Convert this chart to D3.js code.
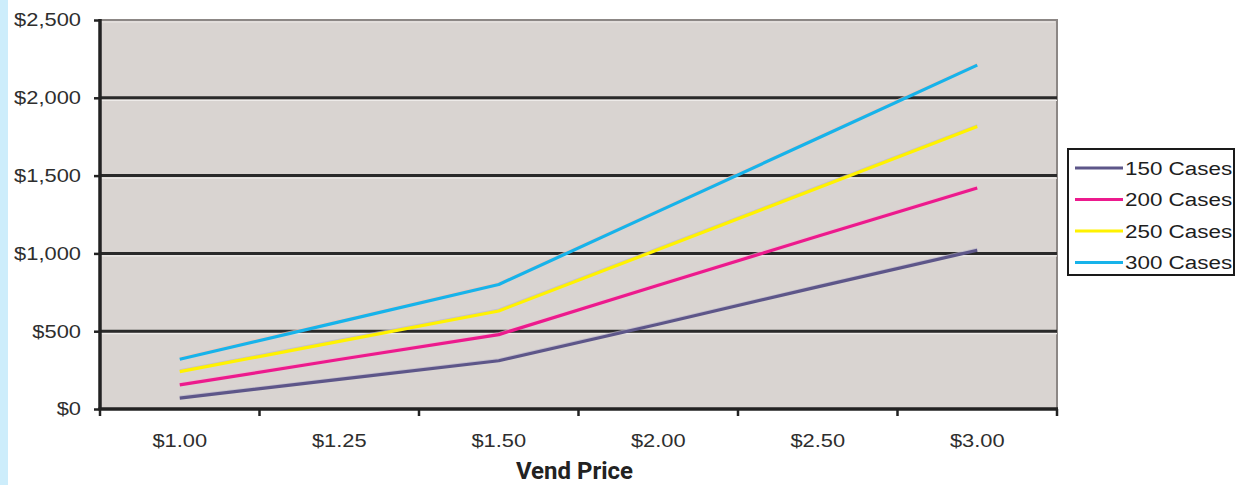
<!DOCTYPE html>
<html>
<head>
<meta charset="utf-8">
<script src="https://cdn.jsdelivr.net/npm/d3@7/dist/d3.min.js"></script>
<style>
  html, body { margin: 0; padding: 0; background: #ffffff; }
  svg { display: block; }
</style>
</head>
<body>
<svg id="chart" width="1243" height="485"></svg>
<script>
// ---- data ----
const categories = ["$1.00", "$1.25", "$1.50", "$2.00", "$2.50", "$3.00"];
const seriesNames = ["150 Cases", "200 Cases", "250 Cases", "300 Cases"];
const cases150 = [70, 190, 310, 545, 785, 1020];
const cases200 = [155, 318, 478, 795, 1110, 1420];
const cases250 = [240, 435, 630, 1025, 1420, 1815];
const cases300 = [320, 560, 800, 1270, 1740, 2210];
const yTicks = [0, 500, 1000, 1500, 2000, 2500];
const xTitle = "Vend Price";

const seriesValues = [cases150, cases200, cases250, cases300];
const colors = ["#5d5689", "#ec1a8d", "#fff200", "#17b3ea"];

// ---- layout ----
const svg = d3.select("#chart");
const plotLeft = 100, plotRight = 1057, plotTop = 20, plotBottom = 409;
const sx = 1.25; // horizontal stretch of the original text

// left light-blue strip
svg.append("rect").attr("x", 0).attr("y", 0).attr("width", 8).attr("height", 485).attr("fill", "#cdedfb");

const x = d3.scaleBand().domain(categories).range([plotLeft, plotRight]).paddingInner(0).paddingOuter(0);
const y = d3.scaleLinear().domain([0, 2500]).range([plotBottom, plotTop]);

// plot background
svg.append("rect")
  .attr("x", plotLeft).attr("y", y(2500))
  .attr("width", plotRight - plotLeft).attr("height", plotBottom - y(2500))
  .attr("fill", "#d9d4d1");

// plot border top/right
svg.append("path")
  .attr("d", `M${plotLeft},${y(2500)}H${plotRight}V${plotBottom}`)
  .attr("fill", "none").attr("stroke", "#8c8785").attr("stroke-width", 2);
svg.append("path")
  .attr("d", `M${plotLeft},${y(2500) + 2}H${plotRight - 2}`)
  .attr("fill", "none").attr("stroke", "#ebe7e5").attr("stroke-width", 1);

// gridlines
const grid = svg.append("g");
yTicks.filter(v => v > 0 && v < 2500).forEach(v => {
  grid.append("line").attr("x1", plotLeft).attr("x2", plotRight).attr("y1", y(v) + 2.5).attr("y2", y(v) + 2.5)
    .attr("stroke", "#eeebe9").attr("stroke-width", 1.2);
  grid.append("line").attr("x1", plotLeft).attr("x2", plotRight).attr("y1", y(v)).attr("y2", y(v))
    .attr("stroke", "#2a2a2a").attr("stroke-width", 3);
});

// lines
const line = d3.line()
  .x((d, i) => x(categories[i]) + x.bandwidth() / 2)
  .y(d => y(d));

const halo = ["#b9b3c9", "#f0b8cf", "#bdb8cc", "#f2c3b5"];
seriesValues.forEach((vals, k) => {
  svg.append("path").datum(vals)
    .attr("d", line)
    .attr("transform", "translate(0,-1.5)")
    .attr("fill", "none")
    .attr("stroke", halo[k]).attr("stroke-width", 2).attr("opacity", 0.7);
  svg.append("path").datum(vals)
    .attr("d", line)
    .attr("fill", "none")
    .attr("stroke", colors[k]).attr("stroke-width", 3.2)
    .attr("stroke-linejoin", "round");
});

// y axis
const yAxis = d3.axisLeft(y).tickValues(yTicks).tickSize(6).tickPadding(0)
  .tickFormat(d => "$" + d3.format(",")(d));
const gy = svg.append("g").attr("transform", `translate(${plotLeft},0)`).call(yAxis);
gy.select(".domain").attr("stroke", "#222").attr("stroke-width", 3.5).attr("d", `M0,${plotTop - 1}V${plotBottom}`);
gy.selectAll(".tick line").attr("stroke", "#222").attr("stroke-width", 2.5);
gy.selectAll(".tick text")
  .attr("x", null).attr("dy", "0.34em")
  .attr("transform", `translate(-19,0) scale(${sx},1)`)
  .attr("font-family", "'Liberation Sans', Arial, sans-serif")
  .attr("font-size", 17.5).attr("fill", "#2e2e2e");

// x axis: labels at band centres, ticks at band edges
const xAxis = d3.axisBottom(x).tickSize(0).tickPadding(0);
const gx = svg.append("g").attr("transform", `translate(0,${plotBottom})`).call(xAxis);
gx.select(".domain").attr("stroke", "#222").attr("stroke-width", 3.5).attr("d", `M${plotLeft - 1.5},0H${plotRight + 1}`);
gx.selectAll(".tick text")
  .attr("y", null).attr("dy", null)
  .attr("transform", `translate(0,38) scale(${sx},1)`)
  .attr("font-family", "'Liberation Sans', Arial, sans-serif")
  .attr("font-size", 17.5).attr("fill", "#2e2e2e");
const edges = categories.map(c => x(c)).concat([x.range()[1]]);
gx.selectAll(".edge").data(edges).enter().append("line")
  .attr("x1", d => d).attr("x2", d => d).attr("y1", 0).attr("y2", 7)
  .attr("stroke", "#222").attr("stroke-width", 2.5);

// x title
svg.append("text")
  .attr("x", (plotLeft + plotRight) / 2 - 4).attr("y", 479)
  .attr("text-anchor", "middle")
  .attr("font-family", "Roboto, 'Liberation Sans', sans-serif")
  .attr("font-weight", 700).attr("font-size", 24).attr("fill", "#222")
  .text(xTitle);

// legend
const lg = svg.append("g");
lg.append("rect").attr("x", 1068).attr("y", 149).attr("width", 166).attr("height", 126)
  .attr("fill", "#ffffff").attr("stroke", "#1a1a1a").attr("stroke-width", 2);
seriesNames.forEach((name, k) => {
  const yy = 168 + k * 31.5;
  lg.append("line").attr("x1", 1075).attr("x2", 1123).attr("y1", yy).attr("y2", yy)
    .attr("stroke", colors[k]).attr("stroke-width", 3);
  lg.append("text")
    .attr("transform", `translate(1125,${yy}) scale(1.18,1)`)
    .attr("dy", "0.36em")
    .attr("font-family", "'Liberation Sans', Arial, sans-serif")
    .attr("font-size", 19).attr("fill", "#1e1e1e")
    .text(name);
});
</script>
</body>
</html>
